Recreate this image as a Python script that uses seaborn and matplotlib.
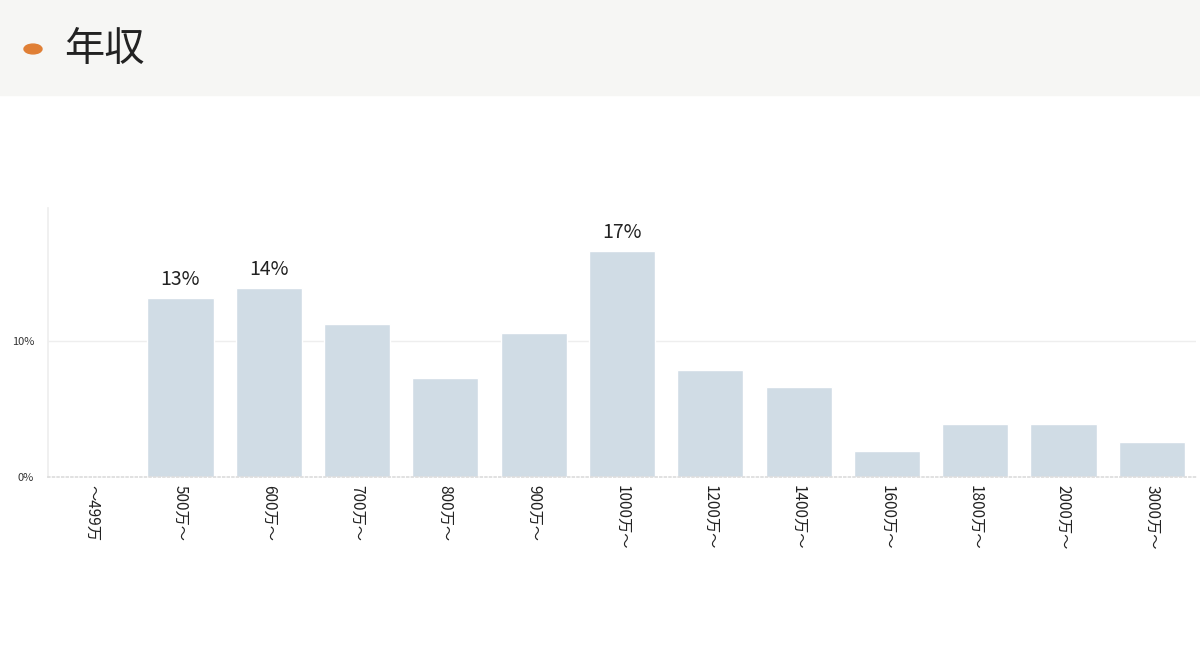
import matplotlib
matplotlib.use("Agg")
import matplotlib.pyplot as plt
import seaborn as sns
import pandas as pd
from matplotlib.patches import Rectangle, Circle

categories = ["〜499万", "500万〜", "600万〜", "700万〜", "800万〜", "900万〜", "1000万〜",
              "1200万〜", "1400万〜", "1600万〜", "1800万〜", "2000万〜", "3000万〜"]
values = [0, 13.2, 13.9, 11.25, 7.3, 10.6, 16.6, 7.9, 6.6, 1.9, 3.9, 3.9, 2.6]
labels = ["", "13%", "14%", "", "", "", "17%", "", "", "", "", "", ""]
yticks = [0, 10]
ytick_labels = ["0%", "10%"]

sns.set_theme(style="white")
plt.rcParams['font.family'] = ['Noto Sans CJK JP', 'DejaVu Sans']

fig = plt.figure(figsize=(12, 6.54), dpi=100)
fig.patches.append(Rectangle((0, 1 - 95/654), 1, 95/654, transform=fig.transFigure,
                             color="#f6f6f4", zorder=0))
fig.patches.append(Circle((33/1200, 1 - 49/654), 0.0075, transform=fig.transFigure,
                          color="#e07f35", zorder=1))
fig.text(64/1200, 1 - 49/654, "年収", fontsize=29, color="#222222", va="center", ha="left")

ax = fig.add_axes([48/1200, 1 - 477/654, (1196 - 48)/1200, (477 - 208)/654])
df = pd.DataFrame({"cat": categories, "val": values})
sns.barplot(data=df, x="cat", y="val", color="#d0dce5", saturation=1, width=0.75, ax=ax)
ax.set_xlim(-0.5, len(categories) - 0.5)
ax.set_ylim(0, 19.8)
ax.set_yticks(yticks)
ax.set_yticklabels(ytick_labels, fontsize=8, color="#333333")
ax.set_xlabel("")
ax.set_ylabel("")
ax.tick_params(axis="x", labelrotation=270, labelsize=11, pad=6, colors="#222222", length=0)
ax.tick_params(axis="y", length=0, pad=10)
ax.axhline(10, color="#eeeeee", lw=1, zorder=0)
for s in ["top", "right"]:
    ax.spines[s].set_visible(False)
ax.spines["left"].set_color("#eeeeee")
ax.spines["bottom"].set_linestyle(":")
ax.spines["bottom"].set_color("#dddddd")
for p, lab in zip(ax.patches, labels):
    if lab:
        ax.text(p.get_x() + p.get_width()/2, p.get_height() + 0.6, lab,
                ha="center", va="bottom", fontsize=14, color="#222222")
fig.savefig("out.png", dpi=100)
